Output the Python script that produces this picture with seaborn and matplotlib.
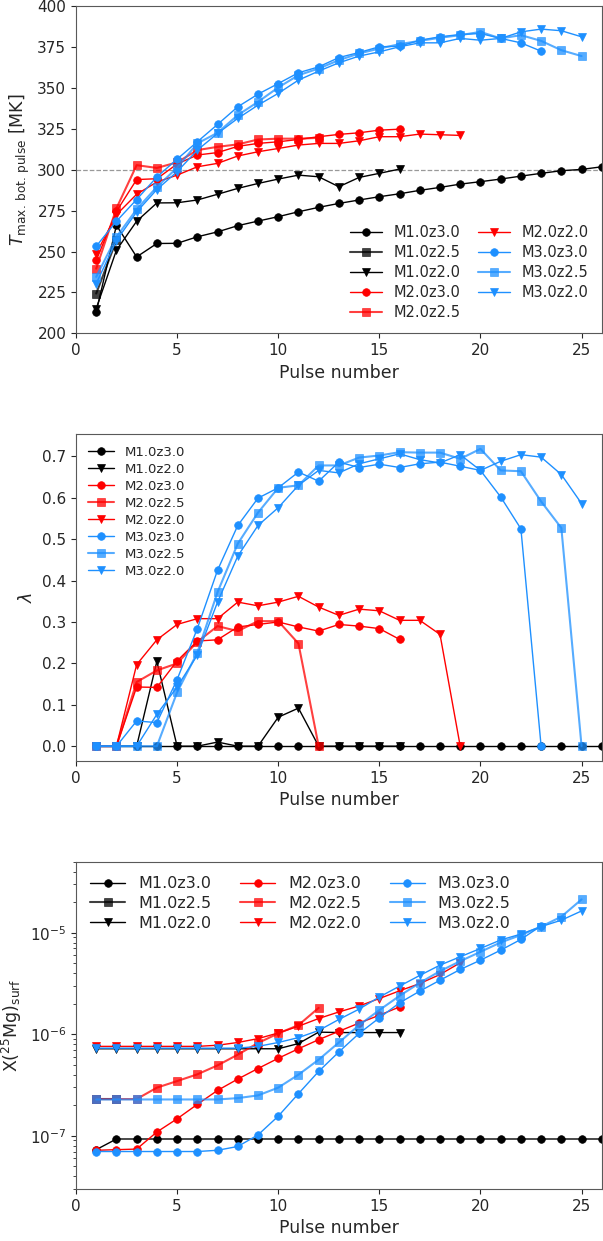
import numpy as np
import pandas as pd
import matplotlib
matplotlib.use("Agg")
import matplotlib.pyplot as plt
import seaborn as sns

# Data
models = ["M1.0z3.0", "M1.0z2.5", "M1.0z2.0",
          "M2.0z3.0", "M2.0z2.5", "M2.0z2.0",
          "M3.0z3.0", "M3.0z2.5", "M3.0z2.0"]

# Max temperature at bottom of pulse [MK]
temp_m10z30 = [213.0, 266.0, 246.7, 254.9, 255.0, 259.0, 262.0, 265.8, 268.6, 271.3, 274.3, 277.0, 279.4,
               281.5, 283.5, 285.3, 287.4, 289.2, 291.2, 292.7, 294.3, 296.1, 297.8, 299.4, 300.2, 301.8]
temp_m10z25 = [224.3, 256.9]
temp_m10z20 = [215.1, 250.8, 268.5, 279.7, 279.8, 281.5, 285.0, 288.6, 291.6, 294.3, 296.7, 295.7, 289.6,
               295.3, 297.8, 300.4]
temp_m20z30 = [244.6, 274.5, 294.0, 294.5, 303.5, 309.0, 310.5, 314.3, 316.1, 317.1, 318.5, 320.2, 321.6,
               322.6, 324.2, 324.8]
temp_m20z25 = [239.5, 276.4, 302.8, 301.1, 304.5, 312.0, 314.0, 315.5, 318.5, 319.0, 319.0, 319.5]
temp_m20z20 = [248.7, 272.5, 285.0, 292.5, 296.7, 301.8, 303.9, 308.4, 311.0, 313.0, 315.1, 316.1, 316.1,
               317.7, 320.2, 320.2, 321.8, 321.4, 321.0]
temp_m30z30 = [253.2, 268.5, 281.8, 295.6, 306.5, 317.1, 327.7, 338.5, 346.2, 352.7, 359.3, 362.9, 368.6,
               371.7, 375.2, 375.5, 379.2, 381.3, 382.7, 383.3, 380.3, 377.6, 372.5]
temp_m30z25 = [234.5, 258.9, 275.8, 289.5, 301.2, 316.1, 322.6, 333.4, 341.5, 350.3, 357.8, 361.9, 367.0,
               371.1, 374.1, 376.8, 378.8, 380.7, 382.3, 384.3, 380.3, 382.3, 378.8, 373.1, 369.5]
temp_m30z20 = [230.4, 256.7, 274.2, 287.9, 298.8, 312.0, 322.2, 331.4, 339.5, 346.7, 354.8, 360.3, 365.4,
               369.5, 372.1, 375.2, 377.6, 377.6, 380.3, 379.2, 380.3, 384.3, 386.0, 385.0, 381.3]

# Dredge-up parameter lambda
lam_m10z30 = [0.0, 0.0, 0.0, 0.0, 0.0, 0.0, 0.0, 0.0, 0.0, 0.0, 0.0, 0.0, 0.0,
              0.0, 0.0, 0.0, 0.0, 0.0, 0.0, 0.0, 0.0, 0.0, 0.0, 0.0, 0.0, 0.0]
lam_m10z20 = [0.0, 0.0, 0.0, 0.205, 0.0, 0.0, 0.01, 0.0, 0.0, 0.07, 0.092, 0.0, 0.0, 0.0, 0.0, 0.0]
lam_m20z30 = [0.0, 0.0, 0.143, 0.142, 0.206, 0.254, 0.257, 0.288, 0.294, 0.300, 0.288, 0.278, 0.294,
              0.290, 0.284, 0.258]
lam_m20z25 = [0.0, 0.0, 0.155, 0.183, 0.200, 0.252, 0.290, 0.278, 0.302, 0.302, 0.248, 0.0]
lam_m20z20 = [0.0, 0.0, 0.197, 0.257, 0.294, 0.308, 0.308, 0.348, 0.339, 0.348, 0.362, 0.336, 0.316,
              0.331, 0.327, 0.304, 0.304, 0.270, 0.0]
lam_m30z30 = [0.0, 0.0, 0.061, 0.057, 0.161, 0.284, 0.425, 0.533, 0.599, 0.624, 0.662, 0.640, 0.686,
              0.673, 0.681, 0.673, 0.682, 0.686, 0.676, 0.666, 0.602, 0.525, 0.0]
lam_m30z25 = [0.0, 0.0, 0.0, 0.0, 0.130, 0.226, 0.372, 0.489, 0.564, 0.624, 0.630, 0.678, 0.678,
              0.697, 0.702, 0.710, 0.709, 0.709, 0.694, 0.718, 0.666, 0.664, 0.591, 0.527, 0.0]
lam_m30z20 = [0.0, 0.0, 0.0, 0.077, 0.143, 0.220, 0.348, 0.459, 0.533, 0.576, 0.630, 0.666, 0.660,
              0.682, 0.694, 0.706, 0.692, 0.684, 0.704, 0.666, 0.688, 0.704, 0.698, 0.656, 0.586]

# Surface 25Mg mass fraction, in units of 1e-7
mg_m10z30 = [0.73, 0.93, 0.93, 0.93, 0.93, 0.93, 0.93, 0.93, 0.93, 0.93, 0.93, 0.93, 0.93,
             0.93, 0.93, 0.93, 0.93, 0.93, 0.93, 0.93, 0.93, 0.93, 0.93, 0.93, 0.93, 0.93]
mg_m10z25 = [2.3, 2.3]
mg_m10z20 = [7.2, 7.2, 7.2, 7.2, 7.2, 7.2, 7.2, 7.2, 7.2, 7.2, 8.1, 10.5, 10.4, 10.4, 10.4, 10.4]
mg_m20z30 = [0.72, 0.73, 0.74, 1.09, 1.47, 2.04, 2.8, 3.62, 4.6, 5.8, 7.2, 8.85, 10.7, 12.9, 15.4, 18.6]
mg_m20z25 = [2.3, 2.3, 2.3, 2.98, 3.46, 4.03, 4.94, 6.3, 8.2, 10.2, 12.3, 18.2]
mg_m20z20 = [7.6, 7.6, 7.6, 7.6, 7.6, 7.6, 7.8, 8.3, 9.06, 10.3, 12.0, 14.3, 16.6, 19.0, 22.5, 26.8,
             31.6, 38.8, 50.6]
mg_m30z30 = [0.70, 0.70, 0.70, 0.70, 0.70, 0.70, 0.72, 0.785, 1.02, 1.56, 2.6, 4.31, 6.7, 10.2, 14.5,
             20.4, 26.6, 34.1, 43.5, 53.7, 67.4, 86.0, 117.0]
mg_m30z25 = [2.28, 2.28, 2.28, 2.28, 2.28, 2.28, 2.28, 2.35, 2.5, 2.98, 4.0, 5.62, 8.3, 12.3, 17.3,
             23.9, 32.1, 41.9, 52.5, 64.9, 80.3, 94.9, 115.0, 144.0, 213.0]
mg_m30z20 = [7.3, 7.3, 7.3, 7.3, 7.3, 7.3, 7.3, 7.3, 7.6, 8.3, 9.27, 10.9, 14.0, 17.7, 23.3, 29.8,
             38.0, 48.0, 58.0, 70.0, 85.0, 97.0, 115.0, 133.0, 164.0]

temp_series = [temp_m10z30, temp_m10z25, temp_m10z20, temp_m20z30, temp_m20z25, temp_m20z20,
               temp_m30z30, temp_m30z25, temp_m30z20]
lam_series = [lam_m10z30, None, lam_m10z20, lam_m20z30, lam_m20z25, lam_m20z20,
              lam_m30z30, lam_m30z25, lam_m30z20]
mg_series = [mg_m10z30, mg_m10z25, mg_m10z20, mg_m20z30, mg_m20z25, mg_m20z20,
             mg_m30z30, mg_m30z25, mg_m30z20]

colors = {"M1.0": "black", "M2.0": "#ff0000", "M3.0": "#1e90ff"}
markers = {"z3.0": "o", "z2.5": "s", "z2.0": "v"}


def long_frame(series, scale=1.0):
    rows = []
    for name, vals in zip(models, series):
        if vals is None:
            continue
        for i, v in enumerate(vals):
            rows.append({"model": name, "pulse": i + 1, "value": v * scale})
    return pd.DataFrame(rows)


def draw_panel(ax, df):
    for name in models:
        sub = df[df["model"] == name]
        if sub.empty:
            continue
        col = colors[name[:4]]
        mk = markers[name[4:]]
        z25 = name.endswith("z2.5")
        sns.lineplot(data=sub, x="pulse", y="value", ax=ax, color=col, marker=mk,
                     markersize=5.5, markeredgecolor=col, markeredgewidth=0.5,
                     linewidth=1.5 if z25 else 1.0, alpha=0.75 if z25 else 1.0,
                     label=name, sort=False)


sns.set_style("ticks")
plt.rcParams["font.family"] = ["DejaVu Sans"]
plt.rcParams["xtick.labelsize"] = 11
plt.rcParams["ytick.labelsize"] = 11

fig, axes = plt.subplots(3, 1, figsize=(6.03, 12.41), dpi=100)
fig.subplots_adjust(left=0.126, right=0.998, top=0.995, bottom=0.042, hspace=0.308)

# Top: temperature
ax = axes[0]
draw_panel(ax, long_frame(temp_series))
ax.axhline(300, color="gray", ls="--", lw=0.9, alpha=0.8, zorder=0)
ax.set_xlim(0, 26)
ax.set_ylim(200, 400)
ax.set_xlabel("Pulse number", fontsize=12.5)
ax.set_ylabel(r"$T_{\rm max.\,bot.\,pulse}$ [MK]", fontsize=12.5)
ax.legend(loc="lower right", ncol=2, frameon=False, fontsize=10.5,
          columnspacing=1.2, handlelength=2.2, labelspacing=0.35)

# Middle: lambda
ax = axes[1]
draw_panel(ax, long_frame(lam_series))
ax.set_xlim(0, 26)
ax.set_xlabel("Pulse number", fontsize=12.5)
ax.set_ylabel(r"$\lambda$", fontsize=12.5)
ax.legend(loc="upper left", ncol=1, frameon=False, fontsize=9.5,
          handlelength=2.0, labelspacing=0.3)

# Bottom: surface 25Mg
ax = axes[2]
draw_panel(ax, long_frame(mg_series, 1e-7))
ax.set_yscale("log")
ax.set_xlim(0, 26)
ax.set_ylim(3e-8, 5e-5)
ax.set_xlabel("Pulse number", fontsize=12.5)
ax.set_ylabel(r"X($^{25}$Mg)$_{\rm surf}$", fontsize=12.5)
ax.legend(loc="upper left", ncol=3, frameon=False, fontsize=11.5,
          columnspacing=1.8, handlelength=2.2, labelspacing=0.3)

for ax in axes:
    for s in ax.spines.values():
        s.set_visible(True)
        s.set_color("0.35")

fig.savefig("out.png", dpi=100)
